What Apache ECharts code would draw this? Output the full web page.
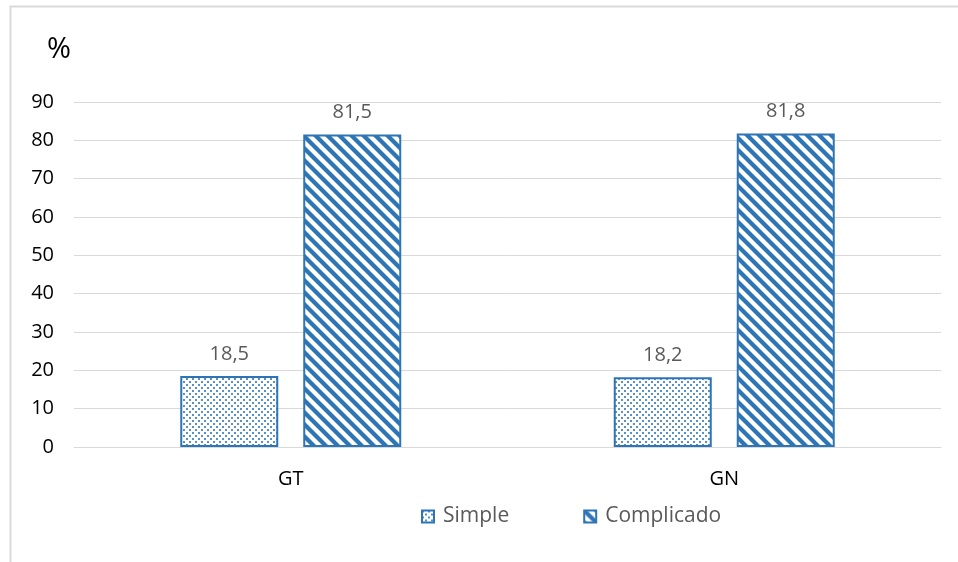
<!DOCTYPE html>
<html>
<head>
<meta charset="utf-8">
<script src="https://cdn.jsdelivr.net/npm/echarts@6/dist/echarts.min.js"></script>
<style>
  html, body { margin: 0; padding: 0; background: #fff; }
  #chart { width: 958px; height: 562px; }
</style>
</head>
<body>
<div id="chart"></div>
<script>
const categories = ['GT', 'GN'];
const simpleValues = [18.5, 18.2];
const complicadoValues = [81.5, 81.8];
const seriesNames = ['Simple', 'Complicado'];
const yTicks = [0, 10, 20, 30, 40, 50, 60, 70, 80, 90];

const BLUE = '#2E75B6';
const FONT = '"Open Sans", "Liberation Sans", sans-serif';

// Dotted fill for the "Simple" bars
function dotPattern() {
  const c = document.createElement('canvas');
  c.width = 6; c.height = 6;
  const g = c.getContext('2d');
  g.fillStyle = '#fff';
  g.fillRect(0, 0, 6, 6);
  g.fillStyle = 'rgba(46,117,182,0.8)';
  g.fillRect(0, 0, 2, 2);
  g.fillRect(3, 3, 2, 2);
  return c;
}

// Diagonal stripes (top-left to bottom-right) for the "Complicado" bars
function stripePattern() {
  const s = 12;
  const c = document.createElement('canvas');
  c.width = s; c.height = s;
  const g = c.getContext('2d');
  g.fillStyle = '#fff';
  g.fillRect(0, 0, s, s);
  g.strokeStyle = BLUE;
  g.lineWidth = 4.2;
  for (let k = -1; k <= 1; k++) {
    g.beginPath();
    g.moveTo(k * s - 2, -2);
    g.lineTo(k * s + s + 2, s + 2);
    g.stroke();
  }
  return c;
}

const chart = echarts.init(document.getElementById('chart'));

const fmt = p => String(p.value).replace('.', ',');

chart.setOption({
  animation: false,
  backgroundColor: '#fff',
  graphic: [
    {
      type: 'polyline',
      shape: { points: [[10.5, 562], [10.5, 6.5], [958, 6.5]] },
      style: { stroke: '#D9D9D9', lineWidth: 2, fill: null }
    },
    {
      type: 'text',
      left: 47, top: 35,
      style: { text: '%', font: '29px ' + FONT, fill: '#000' }
    }
  ],
  grid: { left: 74, right: 17, top: 102, bottom: 115, containLabel: false },
  legend: {
    data: seriesNames,
    left: 416,
    top: 501,
    itemWidth: 12,
    itemHeight: 12,
    itemGap: 74,
    icon: 'rect',
    textStyle: { color: '#595959', fontSize: 21, fontFamily: FONT, padding: [0, 0, 0, 4] }
  },
  xAxis: {
    type: 'category',
    data: categories,
    axisLine: { lineStyle: { color: '#D9D9D9', width: 1 } },
    axisTick: { show: false },
    axisLabel: { color: '#000', fontSize: 20, fontFamily: FONT, margin: 22 }
  },
  yAxis: {
    type: 'value',
    min: 0,
    max: 90,
    interval: 10,
    axisLine: { show: false },
    axisTick: { show: false },
    axisLabel: {
      color: '#000', fontSize: 20, fontFamily: FONT, margin: 20,
      formatter: v => yTicks.includes(v) ? String(v) : ''
    },
    splitLine: { lineStyle: { color: '#D9D9D9', width: 1 } }
  },
  series: [
    {
      name: seriesNames[0],
      type: 'bar',
      data: simpleValues,
      barWidth: 98,
      barGap: '25.5%',
      itemStyle: {
        color: { image: dotPattern(), repeat: 'repeat' },
        borderColor: BLUE,
        borderWidth: 2
      },
      label: {
        show: true, position: 'top', distance: 12,
        color: '#595959', fontSize: 20, fontFamily: FONT, formatter: fmt
      }
    },
    {
      name: seriesNames[1],
      type: 'bar',
      data: complicadoValues,
      barWidth: 98,
      itemStyle: {
        color: { image: stripePattern(), repeat: 'repeat' },
        borderColor: BLUE,
        borderWidth: 2
      },
      label: {
        show: true, position: 'top', distance: 12,
        color: '#595959', fontSize: 20, fontFamily: FONT, formatter: fmt
      }
    }
  ]
});
</script>
</body>
</html>
